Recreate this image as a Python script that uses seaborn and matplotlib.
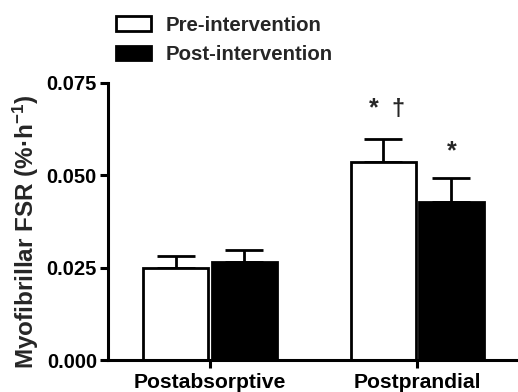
import matplotlib
matplotlib.use("Agg")
import matplotlib.pyplot as plt
import matplotlib.patches as mpatches
import seaborn as sns
import pandas as pd

# ---- data ----
categories = ["Postabsorptive", "Postprandial"]
conditions = ["Pre-intervention", "Post-intervention"]
pre_values = [0.0248, 0.0535]
post_values = [0.0264, 0.0426]
pre_sem = [0.0034, 0.0064]
post_sem = [0.0034, 0.0066]
y_ticks = [0.000, 0.025, 0.050, 0.075]
y_tick_labels = ["0.000", "0.025", "0.050", "0.075"]
annotations = {("Postprandial", "Pre-intervention"): ["*", "\u2020"],
               ("Postprandial", "Post-intervention"): ["*"]}

df = pd.DataFrame({
    "phase": categories * 2,
    "condition": [conditions[0]] * 2 + [conditions[1]] * 2,
    "fsr": pre_values + post_values,
    "sem": pre_sem + post_sem,
})

sns.set_style("ticks")
plt.rcParams["font.family"] = ["Liberation Sans", "DejaVu Sans"]
plt.rcParams["font.weight"] = "bold"
plt.rcParams["mathtext.fontset"] = "custom"
plt.rcParams["mathtext.rm"] = "Liberation Sans:bold"
plt.rcParams["mathtext.bf"] = "Liberation Sans:bold"
plt.rcParams["mathtext.default"] = "bf"

FS = 14.5
fig = plt.figure(figsize=(5.18, 3.92), dpi=100)
ax = fig.add_axes([108 / 518, 1 - 360 / 392, 1 - 108 / 518, (360 - 82.7) / 392])

colors = {"Pre-intervention": "white", "Post-intervention": "black"}
sns.barplot(data=df, x="phase", y="fsr", hue="condition", hue_order=conditions,
            order=categories, palette=colors, edgecolor="black", linewidth=2.0,
            width=0.66, gap=0.05, errorbar=None, ax=ax, legend=False, zorder=2)

# upward-only error bars
for ci, cond in enumerate(conditions):
    sub = df[df["condition"] == cond].set_index("phase").loc[categories]
    cont = ax.containers[ci]
    xs = [b.get_x() + b.get_width() / 2 for b in cont]
    hs = [b.get_height() for b in cont]
    ax.errorbar(xs, hs, yerr=[[0] * len(xs), sub["sem"].tolist()], fmt="none",
                ecolor="black", elinewidth=2.0, capsize=13.7, capthick=2.0, zorder=1)
    for x, h, e, ph in zip(xs, hs, sub["sem"].tolist(), categories):
        marks = annotations.get((ph, cond))
        if not marks:
            continue
        top = h + e
        if len(marks) == 1:
            ax.text(x, top + 0.0053, marks[0], ha="center", va="baseline",
                    fontsize=18, fontweight="bold")
        else:
            ax.text(x - 0.047, top + 0.0062, marks[0], ha="center", va="baseline",
                    fontsize=18, fontweight="bold")
            ax.text(x + 0.074, top + 0.0062, marks[1], ha="center", va="baseline",
                    fontsize=17, fontweight="bold")

ax.set_ylim(0, 0.075)
ax.set_xlim(-0.492, 1.486)
ax.set_yticks(y_ticks)
ax.set_yticklabels(y_tick_labels, fontsize=FS, fontweight="bold")
ax.set_xticks(range(len(categories)))
ax.set_xticklabels(categories, fontsize=15.2, fontweight="bold")
ax.set_xlabel("")
ax.set_ylabel("Myofibrillar FSR (%\u00b7h$^{-1}$)", fontsize=17.5, fontweight="bold")
ax.yaxis.set_label_coords(-0.163, 0.463)
sns.despine(ax=ax)
for s in ["left", "bottom"]:
    ax.spines[s].set_linewidth(2.2)
    ax.spines[s].set_color("black")
ax.tick_params(axis="both", width=2.2, length=6, color="black", labelcolor="black")
ax.tick_params(axis="y", pad=2)
ax.tick_params(axis="x", pad=3)
ax.patch.set_alpha(0)

handles = [mpatches.Patch(facecolor=colors[c], edgecolor="black", linewidth=2.0, label=c)
           for c in conditions]
fig.legend(handles=handles, loc="center left", bbox_to_anchor=(116 / 518, 1 - 40 / 392),
           frameon=False, prop={"size": 14.7, "weight": "bold"}, handlelength=1.7,
           handleheight=0.75, handletextpad=0.75, labelspacing=0.5, borderpad=0,
           borderaxespad=0)

fig.savefig("out.png", dpi=100)
